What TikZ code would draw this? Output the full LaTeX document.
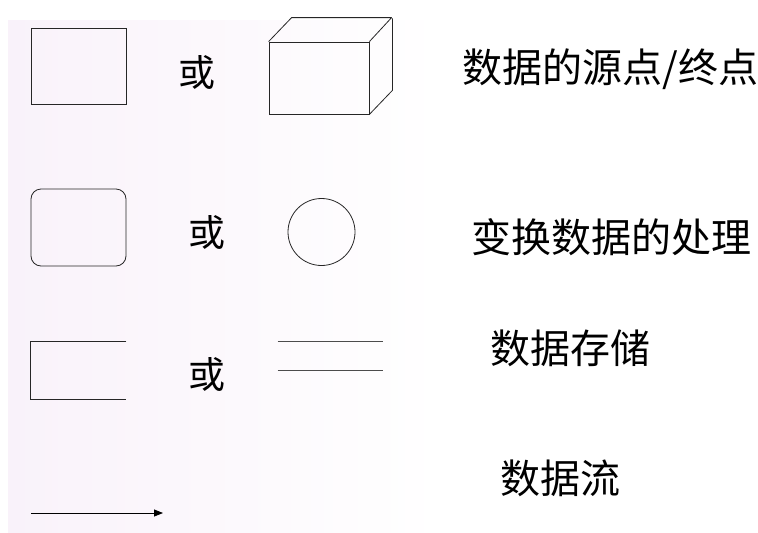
\documentclass[tikz,border=0pt]{standalone}
\usepackage{fontspec}
\newfontfamily\cjk{Noto Sans CJK SC}
\usetikzlibrary{arrows.meta,shadings}
\definecolor{bgpink}{RGB}{249,242,250}
\begin{document}
\begin{tikzpicture}[x=1pt,y=-1pt,
  line width=0.8pt,
  symbox/.style={draw=black!85, inner sep=0pt},
  orlbl/.style={font=\cjk\fontsize{37pt}{37pt}\selectfont, inner sep=0pt},
  desc/.style={font=\cjk\fontsize{40pt}{40pt}\selectfont, inner sep=0pt, anchor=west},
  flow/.style={draw=black, -{Triangle[length=9pt,width=7pt]}}]
\useasboundingbox (0,0) rectangle (758,533);
\fill[white] (0,0) rectangle (758,533);
\shade[left color=bgpink, right color=white] (8,20) rectangle (440,533);
% row 1
\node[symbox, minimum width=95pt, minimum height=76pt] (src) at (78.5,66) {};
\node[orlbl] (or1) at (197,72) {或};
\node[symbox, minimum width=100pt, minimum height=72pt] (cube) at (319,78) {};
\draw[black!85, line join=round] (cube.north west) -- ++(23,-24) -- ++(100,0) -- (cube.north east)
  (cube.south east) -- ++(23,-24) -- ++(0,-72);
\node[desc] (l1) at (462,69) {数据的源点/终点};
% row 2
\node[symbox, rounded corners=10pt, minimum width=95pt, minimum height=77pt] (proc) at (78.5,227.5) {};
\node[orlbl] (or2) at (207,232) {或};
\node[symbox, circle, minimum size=67pt] (circ) at (321.5,232) {};
\node[desc] (l2) at (471,237) {变换数据的处理};
% row 3
\node[inner sep=0pt, minimum width=95pt, minimum height=57pt] (store1) at (78.5,370.5) {};
\draw[black!85] (store1.north east) -- (store1.north west) -- (store1.south west) -- (store1.south east);
\node[orlbl] (or3) at (207,374) {或};
\node[inner sep=0pt, minimum width=105pt, minimum height=28pt] (store2) at (330.5,356) {};
\draw[black!70] (store2.north west) -- (store2.north east) (store2.south west) -- (store2.south east);
\node[desc] (l3) at (490,348) {数据存储};
% row 4
\coordinate (a1) at (31,513);
\coordinate (a2) at (163,513);
\draw[flow] (a1) -- (a2);
\node[desc] (l4) at (500,478) {数据流};
\end{tikzpicture}
\end{document}
